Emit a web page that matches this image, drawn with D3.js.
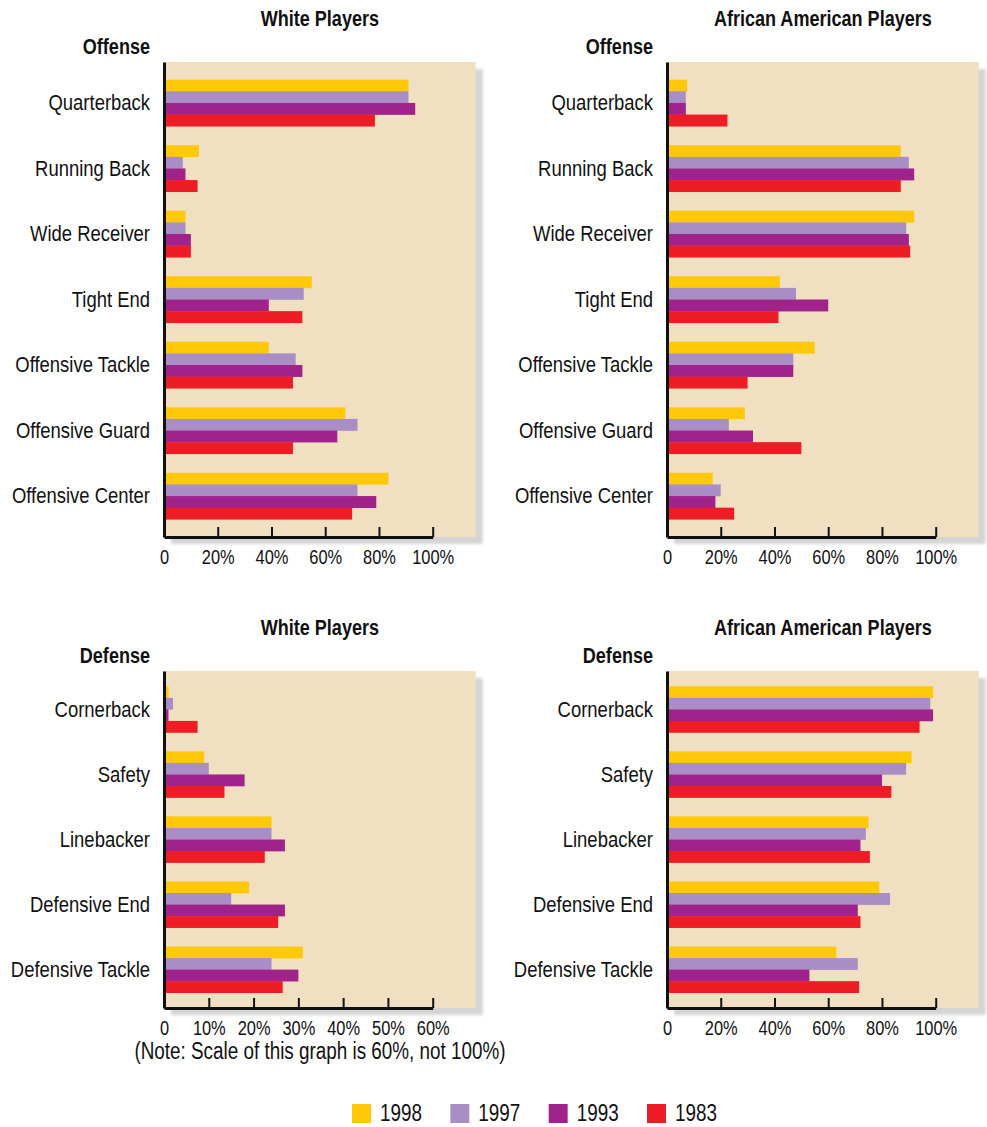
<!DOCTYPE html>
<html>
<head>
<meta charset="utf-8">
<script src="https://cdn.jsdelivr.net/npm/d3@7"></script>
<style>
    body { margin: 0; background: #fff; }
    svg text { font-family: "Liberation Sans", Arial, sans-serif; fill: #111; }
</style>
</head>
<body>
<div id="chart"></div>
<script>
var years = ["1998", "1997", "1993", "1983"];
var yearColors = ["#ffc90a", "#a88ec4", "#a0228b", "#ee1c25"];

var offensePositions = ["Quarterback", "Running Back", "Wide Receiver", "Tight End",
    "Offensive Tackle", "Offensive Guard", "Offensive Center"];
var defensePositions = ["Cornerback", "Safety", "Linebacker", "Defensive End", "Defensive Tackle"];

// one row per position, values in order 1998, 1997, 1993, 1983 (percent)
var whiteOffense = [
    [91, 91, 93.5, 78.5],
    [13, 7, 8, 12.5],
    [8, 8, 10, 10],
    [55, 52, 39, 51.5],
    [39, 49, 51.5, 48],
    [67.5, 72, 64.5, 48],
    [83.5, 72, 79, 70]
];
var blackOffense = [
    [7.5, 7, 7, 22.5],
    [87, 90, 92, 87],
    [92, 89, 90, 90.5],
    [42, 48, 60, 41.5],
    [55, 47, 47, 30],
    [29, 23, 32, 50],
    [17, 20, 18, 25]
];
var whiteDefense = [
    [1, 2, 1, 7.5],
    [9, 10, 18, 13.5],
    [24, 24, 27, 22.5],
    [19, 15, 27, 25.5],
    [31, 24, 30, 26.5]
];
var blackDefense = [
    [99, 98, 99, 94],
    [91, 89, 80, 83.5],
    [75, 74, 72, 75.5],
    [79, 83, 71, 72],
    [63, 71, 53, 71.5]
];

var ticks100 = [0, 20, 40, 60, 80, 100];
var ticks60 = [0, 10, 20, 30, 40, 50, 60];

var width = 987,
    height = 1127;

var svg = d3.select("#chart")
    .append("svg")
    .attr("width", width)
    .attr("height", height);

var defs = svg.append("defs");
defs.append("filter")
    .attr("id", "soft")
    .attr("x", "-5%").attr("y", "-5%")
    .attr("width", "110%").attr("height", "110%")
    .append("feGaussianBlur")
    .attr("stdDeviation", 1.6);

// no condensed face installed, so squeeze the regular one
function narrow(sel) {
    sel.each(function () {
        var len = this.getComputedTextLength();
        d3.select(this)
            .attr("textLength", len * 0.82)
            .attr("lengthAdjust", "spacingAndGlyphs");
    });
}

function drawPanel(opt) {
    var axisLen = 268.7;
    var g = svg.append("g");

    var x = d3.scaleLinear()
        .domain([0, opt.max])
        .range([opt.left, opt.left + axisLen]);

    var y = d3.scaleBand()
        .domain(opt.positions)
        .range([opt.top, opt.bottom])
        .paddingInner(0.29)
        .paddingOuter(opt.outer);

    var yy = d3.scaleBand()
        .domain(years)
        .range([0, y.bandwidth()]);

    var bgRight = x(opt.max * 1.16);

    // drop shadow + tan background
    g.append("rect")
        .attr("x", opt.left + 7)
        .attr("y", opt.top + 7)
        .attr("width", bgRight - opt.left)
        .attr("height", opt.bottom - opt.top)
        .attr("filter", "url(#soft)")
        .style("fill", "#d4d4d4");
    g.append("rect")
        .attr("x", opt.left)
        .attr("y", opt.top)
        .attr("width", bgRight - opt.left)
        .attr("height", opt.bottom - opt.top)
        .style("fill", "#f0dfc1");

    var groups = g.selectAll(".grp")
        .data(opt.values)
        .enter()
        .append("g")
        .attr("class", "grp")
        .attr("transform", function (d, i) {
            return "translate(0," + y(opt.positions[i]) + ")";
        });

    groups.selectAll("rect")
        .data(function (d) { return d; })
        .enter()
        .append("rect")
        .attr("x", x(0))
        .attr("y", function (d, j) { return yy(years[j]); })
        .attr("width", function (d) { return x(d) - x(0); })
        .attr("height", yy.bandwidth() + 0.3)
        .style("fill", function (d, j) { return yearColors[j]; });

    // category axis
    var yAxis = g.append("g")
        .attr("transform", "translate(" + opt.left + ",0)")
        .call(d3.axisLeft(y).tickSize(0).tickPadding(14));
    yAxis.select(".domain").attr("stroke", "#111").attr("stroke-width", 3);
    yAxis.selectAll("text")
        .style("font-size", "22.5px")
        .style("fill", "#111")
        .call(narrow);

    // value axis, ticks pointing up into the plot
    var xAxis = g.append("g")
        .attr("transform", "translate(0," + opt.bottom + ")")
        .call(d3.axisBottom(x)
            .tickValues(opt.ticks)
            .tickSizeInner(-10)
            .tickSizeOuter(0)
            .tickPadding(13)
            .tickFormat(function (d) { return d === 0 ? "0" : d + "%"; }));
    xAxis.select(".domain").attr("stroke", "#111").attr("stroke-width", 3);
    xAxis.selectAll(".tick line").attr("stroke", "#111").attr("stroke-width", 2);
    xAxis.selectAll("text")
        .style("font-size", "20px")
        .style("fill", "#111")
        .call(narrow);

    g.append("text")
        .attr("x", (opt.left + bgRight) / 2)
        .attr("y", opt.top - 36)
        .attr("text-anchor", "middle")
        .style("font-size", "22px")
        .style("font-weight", "bold")
        .text(opt.title)
        .call(narrow);

    g.append("text")
        .attr("x", opt.left - 14)
        .attr("y", opt.top - 8)
        .attr("text-anchor", "end")
        .style("font-size", "22px")
        .style("font-weight", "bold")
        .text(opt.side)
        .call(narrow);

    if (opt.note) {
        g.append("text")
            .attr("x", 320)
            .attr("y", opt.bottom + 51)
            .attr("text-anchor", "middle")
            .style("font-size", "23px")
            .text(opt.note)
            .call(narrow);
    }
}

drawPanel({ title: "White Players", side: "Offense", positions: offensePositions, values: whiteOffense,
    max: 100, ticks: ticks100, left: 164, top: 62, bottom: 537, outer: 0.27 });
drawPanel({ title: "African American Players", side: "Offense", positions: offensePositions, values: blackOffense,
    max: 100, ticks: ticks100, left: 667, top: 62, bottom: 537, outer: 0.27 });
drawPanel({ title: "White Players", side: "Defense", positions: defensePositions, values: whiteDefense,
    max: 60, ticks: ticks60, left: 164, top: 671, bottom: 1008, outer: 0.235,
    note: "(Note: Scale of this graph is 60%, not 100%)" });
drawPanel({ title: "African American Players", side: "Defense", positions: defensePositions, values: blackDefense,
    max: 100, ticks: ticks100, left: 667, top: 671, bottom: 1008, outer: 0.235 });

// legend
var legendX = d3.scalePoint()
    .domain(years)
    .range([352, 647]);

var legend = svg.append("g")
    .selectAll("g")
    .data(years)
    .enter()
    .append("g")
    .attr("transform", function (d) { return "translate(" + legendX(d) + ",1104)"; });
legend.append("rect")
    .attr("width", 19)
    .attr("height", 19)
    .style("fill", function (d, i) { return yearColors[i]; });
legend.append("text")
    .attr("x", 28)
    .attr("y", 17)
    .style("font-size", "23px")
    .text(function (d) { return d; })
    .call(narrow);
</script>
</body>
</html>
